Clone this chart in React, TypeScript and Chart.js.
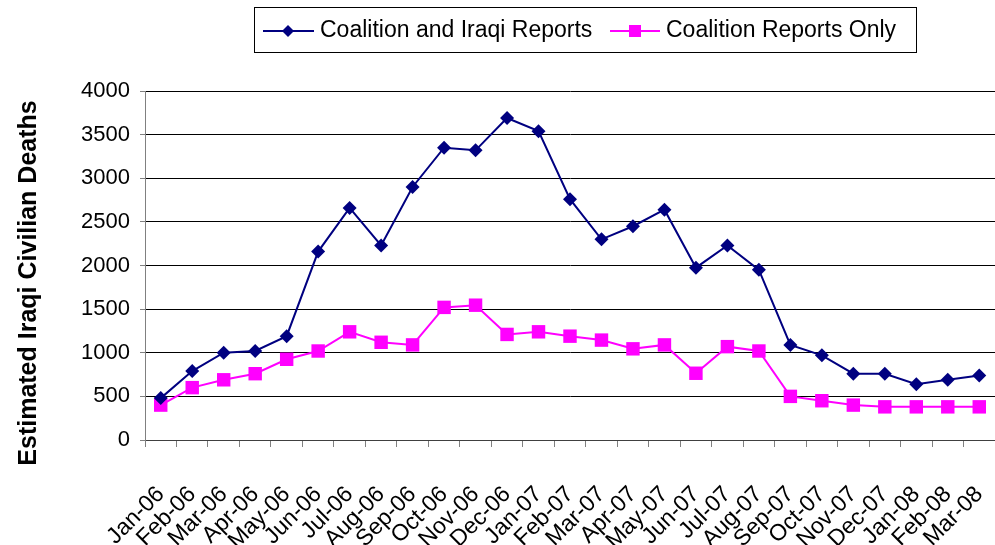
import React, { useEffect, useRef } from "react";
import { Chart, registerables } from "chart.js";

Chart.register(...registerables);

const months = [
  "Jan-06", "Feb-06", "Mar-06", "Apr-06", "May-06", "Jun-06", "Jul-06", "Aug-06", "Sep-06",
  "Oct-06", "Nov-06", "Dec-06", "Jan-07", "Feb-07", "Mar-07", "Apr-07", "May-07", "Jun-07",
  "Jul-07", "Aug-07", "Sep-07", "Oct-07", "Nov-07", "Dec-07", "Jan-08", "Feb-08", "Mar-08",
];

const coalitionAndIraqi = [
  480, 790, 1000, 1020, 1190, 2160, 2660, 2230, 2900, 3350, 3320, 3690, 3540, 2760,
  2300, 2450, 2640, 1975, 2230, 1950, 1090, 970, 760, 760, 640, 690, 740,
];

const coalitionOnly = [
  400, 600, 690, 760, 925, 1020, 1240, 1120, 1090, 1520, 1545, 1210, 1240, 1190,
  1145, 1045, 1090, 765, 1070, 1020, 500, 450, 400, 380, 380, 380, 380,
];

const seriesNames = ["Coalition and Iraqi Reports", "Coalition Reports Only"];
const yTitle = "Estimated Iraqi Civilian Deaths";

const FONT = "'Liberation Sans', Arial, Helvetica, sans-serif";
const NAVY = "#000080";
const PINK = "#FF00FF";

const legendPlugin = {
  id: "boxLegend",
  afterDraw(chart: any) {
    const ctx = chart.ctx;
    ctx.save();
    ctx.strokeStyle = "#000";
    ctx.lineWidth = 1;
    ctx.strokeRect(254.5, 7.5, 662, 45);
    const entries = [
      { x0: 263, x1: 314, mx: 288, tx: 320, color: NAVY, style: "diamond", label: seriesNames[0] },
      { x0: 610, x1: 660, mx: 635, tx: 666, color: PINK, style: "square", label: seriesNames[1] },
    ];
    const cy = 31;
    for (const e of entries) {
      ctx.strokeStyle = e.color;
      ctx.lineWidth = 2;
      ctx.beginPath();
      ctx.moveTo(e.x0, cy);
      ctx.lineTo(e.x1, cy);
      ctx.stroke();
      ctx.fillStyle = e.color;
      ctx.beginPath();
      if (e.style === "diamond") {
        ctx.moveTo(e.mx, cy - 6);
        ctx.lineTo(e.mx + 6, cy);
        ctx.lineTo(e.mx, cy + 6);
        ctx.lineTo(e.mx - 6, cy);
        ctx.closePath();
      } else {
        ctx.rect(e.mx - 6, cy - 6, 12, 12);
      }
      ctx.fill();
      ctx.fillStyle = "#000";
      ctx.font = `23px ${FONT}`;
      ctx.textAlign = "left";
      ctx.textBaseline = "middle";
      ctx.fillText(e.label, e.tx, cy);
    }
    ctx.translate(29, 283);
    ctx.rotate(-Math.PI / 2);
    ctx.font = `bold 25px ${FONT}`;
    ctx.fillStyle = "#000";
    ctx.textAlign = "center";
    ctx.textBaseline = "middle";
    ctx.fillText(yTitle, 0, 0);
    ctx.restore();
  },
};

export default function App() {
  const ref = useRef<HTMLCanvasElement | null>(null);

  useEffect(() => {
    if (!ref.current) return;
    const chart = new Chart(ref.current, {
      type: "line",
      data: {
        labels: months,
        datasets: [
          {
            label: seriesNames[0],
            data: coalitionAndIraqi,
            borderColor: NAVY,
            backgroundColor: NAVY,
            borderWidth: 2,
            pointStyle: "rectRot",
            pointRadius: 7,
            pointBorderWidth: 0,
            tension: 0,
            clip: false,
          },
          {
            label: seriesNames[1],
            data: coalitionOnly,
            borderColor: PINK,
            backgroundColor: PINK,
            borderWidth: 2,
            pointStyle: "rect",
            pointRadius: 9.5,
            pointBorderWidth: 0,
            tension: 0,
            clip: false,
          },
        ],
      },
      options: {
        animation: false,
        responsive: false,
        devicePixelRatio: 1,
        layout: { autoPadding: false, padding: { top: 91, right: 0, bottom: 0, left: 0 } },
        plugins: {
          legend: { display: false },
          tooltip: { enabled: false },
          title: { display: false },
        },
        scales: {
          x: {
            type: "category",
            offset: true,
            afterFit: (s: any) => {
              s.height = 105;
              s.paddingLeft = 0;
              s.paddingRight = 0;
            },
            grid: {
              offset: true,
              drawOnChartArea: false,
              drawTicks: true,
              tickLength: 7,
              color: "#808080",
            },
            border: { display: true, color: "#404040", width: 1 },
            ticks: {
              autoSkip: false,
              maxRotation: 45,
              minRotation: 45,
              padding: 34,
              color: "#000",
              font: { family: FONT, size: 23 },
            },
          },
          y: {
            min: 0,
            max: 4000,
            afterFit: (s: any) => {
              s.width = 145;
              s.paddingTop = 0;
              s.paddingBottom = 0;
            },
            grid: {
              color: "#000",
              lineWidth: 1,
              drawTicks: true,
              tickLength: 5,
              tickColor: "#808080",
            },
            border: { display: true, color: "#808080", width: 1 },
            ticks: {
              stepSize: 500,
              padding: 10,
              color: "#000",
              font: { family: FONT, size: 22 },
              callback: (v: any) => String(v),
            },
          },
        },
      },
      plugins: [legendPlugin],
    });
    return () => chart.destroy();
  }, []);

  return (
    <div style={{ position: "fixed", left: 0, top: 0, width: 995, height: 545, background: "#fff" }}>
      <canvas ref={ref} width={995} height={545} style={{ display: "block" }} />
    </div>
  );
}
